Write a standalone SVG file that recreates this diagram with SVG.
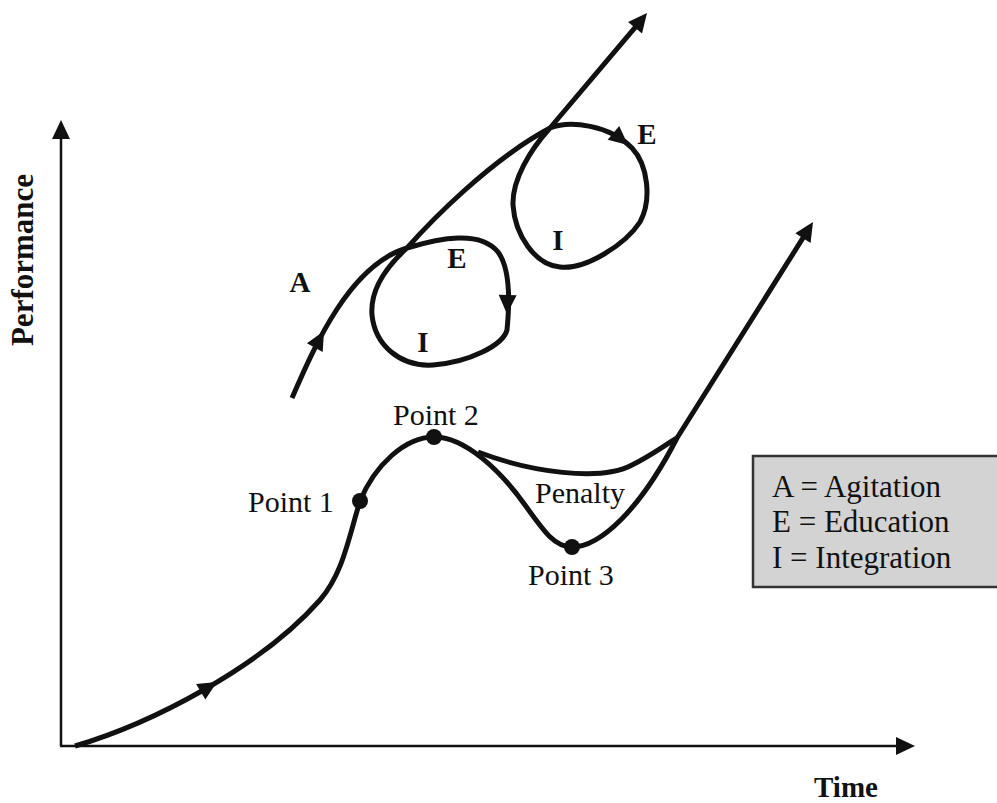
<svg xmlns="http://www.w3.org/2000/svg" xmlns:xlink="http://www.w3.org/1999/xlink" width="997" height="803" viewBox="0 0 997 803">
  <style>
    .curve { fill: none; stroke: #111; stroke-width: 5; stroke-linejoin: round; stroke-linecap: butt; }
    .axis { fill: none; stroke: #111; stroke-width: 2.5; }
    .head { fill: #111; }
    .dot { fill: #111; }
    .lbl { font-family: "Liberation Serif", "Times New Roman", serif; font-size: 30px; fill: #111; }
    .bold { font-family: "Liberation Serif", "Times New Roman", serif; font-size: 29px; font-weight: bold; fill: #111; }
    .leg { font-family: "Liberation Serif", "Times New Roman", serif; font-size: 31px; fill: #111; }
  </style>
  <defs>
    <path id="ah" d="M0,0 L-19,-9 L-19,9 Z"/>
  </defs>
  <rect x="0" y="0" width="997" height="803" fill="#ffffff"/>

  <g id="axes">
    <line class="axis" x1="61" y1="746" x2="61" y2="136"/>
    <line class="axis" x1="60" y1="746" x2="899" y2="746"/>
    <use xlink:href="#ah" class="head" transform="translate(61,120) rotate(-90)"/>
    <use xlink:href="#ah" class="head" transform="translate(915,746)"/>
    <text class="bold" font-size="31" transform="translate(33,260) rotate(-90)" text-anchor="middle" style="font-size:31px">Performance</text>
    <text class="bold" x="846" y="797" text-anchor="middle">Time</text>
  </g>

  <g id="connectors">
    <path id="main-curve" class="curve" d="M75,746 C150,724 260,668 320,600 C343,573 348,540 360,501 C375,465 405,437 434,437 C465,437 500,470 525,505 C545,533 555,547 572,547 C600,547 640,510 677,438 L806.6,232.2"/>
    <path id="recovery-curve" class="curve" d="M478,452 C530,472 600,482 632,465 C652,455 665,445 677,438"/>
    <use xlink:href="#ah" class="head" transform="translate(217,682) rotate(-31)"/>
    <use xlink:href="#ah" class="head" transform="translate(813,222) rotate(-58)"/>

    <path id="aei-cycle" class="curve" d="M292,398 C315,345 350,265 407,248 C440,238 480,230 498,252 C510,268 510,300 507,330 C503,345 470,362 433,365 C400,367 375,345 372,315 C370,290 385,268 407,248 C430,222 490,160 550,128 C570,120 610,125 632,148 C648,165 652,200 640,222 C625,245 585,270 560,267 C535,265 515,235 513,205 C512,180 530,150 550,128 L639.4,22.3"/>
    <use xlink:href="#ah" class="head" transform="translate(324,331) rotate(-61)"/>
    <use xlink:href="#ah" class="head" transform="translate(507,314) rotate(92)"/>
    <use xlink:href="#ah" class="head" transform="translate(628,145) rotate(40)"/>
    <use xlink:href="#ah" class="head" transform="translate(647,13) rotate(-51)"/>
  </g>

  <g id="point1">
    <circle class="dot" cx="360" cy="501" r="8"/>
    <text class="lbl" x="248" y="512">Point 1</text>
  </g>
  <g id="point2">
    <circle class="dot" cx="434" cy="437" r="8"/>
    <text class="lbl" x="393" y="425">Point 2</text>
  </g>
  <g id="point3">
    <circle class="dot" cx="572" cy="547" r="8"/>
    <text class="lbl" x="528" y="585">Point 3</text>
  </g>
  <g id="penalty">
    <text class="lbl" x="535" y="503">Penalty</text>
  </g>

  <g id="cycle-labels">
    <text class="bold" x="300" y="292" text-anchor="middle">A</text>
    <text class="bold" x="457" y="268" text-anchor="middle">E</text>
    <text class="bold" x="423" y="352" text-anchor="middle">I</text>
    <text class="bold" x="647" y="144" text-anchor="middle">E</text>
    <text class="bold" x="558" y="250" text-anchor="middle">I</text>
  </g>

  <g id="legend">
    <rect x="753" y="456" width="260" height="131" fill="#d3d3d3" stroke="#333" stroke-width="2.5"/>
    <text class="leg" x="772" y="497">A = Agitation</text>
    <text class="leg" x="772" y="532">E = Education</text>
    <text class="leg" x="772" y="568">I = Integration</text>
  </g>
</svg>
